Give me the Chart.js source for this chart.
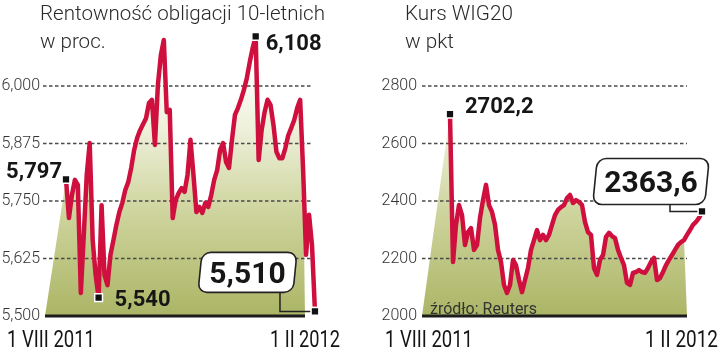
<!DOCTYPE html>
<html><head><meta charset="utf-8">
<script src="https://cdn.jsdelivr.net/npm/chart.js@4.4.1/dist/chart.umd.min.js"></script>
<style>
html,body{margin:0;padding:0;background:#fff;}
#wrap{position:relative;width:720px;height:351px;overflow:hidden;background:#fff;}
.cv{position:absolute;top:0;width:360px;height:351px;}
</style></head><body>
<div id="wrap">
<div class="cv" style="left:0"><canvas id="c1" width="360" height="351"></canvas></div>
<div class="cv" style="left:360px"><canvas id="c2" width="360" height="351"></canvas></div>
</div>
<script>
// ---- data ----
const dateLabels = ['1 VIII 2011', '1 II 2012'];

const yieldTitle = ['Rentowność obligacji 10-letnich', 'w proc.'];
const yieldTicks = [5.5, 5.625, 5.75, 5.875, 6.0];
const yieldValues = [
 5.797, 5.713, 5.763, 5.796, 5.785, 5.550, 5.676, 5.807, 5.876, 5.665,
 5.589, 5.540, 5.741, 5.589, 5.567, 5.633, 5.665, 5.698, 5.726, 5.746,
 5.774, 5.791, 5.822, 5.861, 5.887, 5.904, 5.917, 5.930, 5.963, 5.970,
 5.872, 6.002, 6.067, 6.100, 5.943, 5.948, 5.713, 5.752, 5.767, 5.778,
 5.770, 5.807, 5.883, 5.807, 5.726, 5.737, 5.724, 5.746, 5.737, 5.763,
 5.796, 5.817, 5.861, 5.876, 5.835, 5.822, 5.883, 5.937, 5.952, 5.970,
 5.991, 6.017, 6.052, 6.083, 6.108, 5.839, 5.904, 5.943, 5.970, 5.959,
 5.915, 5.857, 5.843, 5.843, 5.865, 5.893, 5.909, 5.926, 5.952, 5.970,
 5.817, 5.633, 5.720, 5.654, 5.510];

const wigTitle = ['Kurs WIG20', 'w pkt'];
const wigTicks = [2000, 2200, 2400, 2600, 2800];
const wigValues = [
 2702.2, 2188, 2317, 2386, 2351, 2247, 2292, 2306, 2230, 2247,
 2341, 2403, 2456, 2386, 2362, 2317, 2230, 2188, 2108, 2080,
 2108, 2195, 2177, 2125, 2083, 2125, 2167, 2230, 2264, 2299,
 2264, 2282, 2264, 2282, 2317, 2351, 2369, 2379, 2386, 2410,
 2421, 2393, 2403, 2397, 2386, 2327, 2292, 2282, 2167, 2143,
 2195, 2212, 2275, 2289, 2278, 2271, 2230, 2202, 2177, 2115,
 2108, 2150, 2153, 2160, 2153, 2150, 2167, 2188, 2202, 2125,
 2132, 2153, 2177, 2195, 2212, 2230, 2247, 2257, 2264, 2282,
 2299, 2317, 2327, 2341, 2363.6];
const sourceNote = 'źródło: Reuters';

// ---- helpers ----
const RED = '#cf0f3e';
function drawText(ctx, t) {
  ctx.save();
  ctx.font = t.font;
  ctx.fillStyle = t.color || '#1a1a1a';
  ctx.textBaseline = 'alphabetic';
  ctx.textAlign = 'left';
  const w = ctx.measureText(t.text).width;
  const sx = t.sx || (t.width ? t.width / w : 1);
  let x = t.x;
  if (t.align === 'right') x -= w * sx; else if (t.align === 'center') x -= w * sx / 2;
  ctx.translate(x, t.y);
  ctx.scale(sx, 1);
  ctx.fillText(t.text, 0, 0);
  ctx.restore();
  return sx;
}
function roundBox(ctx, cx, cy, w, h, r, skew) {
  ctx.save();
  ctx.translate(cx, cy);
  ctx.transform(1, 0, skew, 1, 0, 0);
  ctx.beginPath();
  ctx.roundRect(-w / 2, -h / 2, w, h, r);
  ctx.fillStyle = '#fff';
  ctx.fill();
  ctx.lineWidth = 1.6;
  ctx.strokeStyle = '#222';
  ctx.stroke();
  ctx.restore();
}

function makeChart(canvasId, cfg) {
  const markerSet = new Set(cfg.callouts.map(c => c.index));
  const L = cfg.layout;
  const lineData = cfg.values.map((v, i) => ({x: i, y: v}));
  const fillData = [{x: L.baseFrom, y: cfg.yMin}]
    .concat(lineData.filter(p => p.x < L.baseTo))
    .concat([{x: L.baseTo, y: cfg.yMin}]);
  const gridSets = cfg.ticks.filter(v => v !== cfg.yMin).map(v => ({
    data: [{x: L.gridFrom, y: v}, {x: L.gridTo, y: v}],
    borderColor: '#4a4a4a', borderWidth: 1.3, borderDash: [3.5, 2.5],
    pointRadius: 0, fill: false, order: 10, clip: false
  }));
  const datasets = [
    {
      data: lineData, borderColor: RED, borderWidth: 4.5, tension: 0,
      borderJoinStyle: 'round', borderCapStyle: 'round', fill: false, order: 1, clip: false,
      pointStyle: 'rect',
      pointRadius: c => markerSet.has(c.dataIndex) ? 5.5 : 0,
      pointBackgroundColor: '#111', pointBorderColor: '#fff', pointBorderWidth: 1.5
    },
    {
      data: fillData, borderColor: 'rgba(0,0,0,0)', borderWidth: 0, pointRadius: 0,
      fill: 'start', order: 20,
      backgroundColor: c => {
        const ch = c.chart; const ca = ch.chartArea;
        if (!ca) return 'rgba(0,0,0,0)';
        const g = ch.ctx.createLinearGradient(0, ca.bottom, 0, ca.bottom - 250);
        g.addColorStop(0, '#abb565');
        g.addColorStop(0.4, '#cdd39b');
        g.addColorStop(0.75, '#eef0da');
        g.addColorStop(1, '#ffffff');
        return g;
      }
    },
    {
      data: [{x: L.baseFrom, y: cfg.yMin}, {x: L.baseTo, y: cfg.yMin}],
      borderColor: '#1c1c1c', borderWidth: 3.2, pointRadius: 0, fill: false, order: 3, clip: false
    }
  ].concat(gridSets);

  const textPlugin = {
    id: 'texts' + canvasId,
    afterDraw(chart) {
      const ctx = chart.ctx;
      const meta = chart.getDatasetMeta(0);
      // titles
      const t1 = cfg.title;
      const sx = drawText(ctx, {text: t1[0], x: cfg.titleX, y: 20, font: '300 21px Roboto', color: '#2a2a2a', width: cfg.titleWidth});
      drawText(ctx, {text: t1[1], x: cfg.titleX, y: 48, font: '300 21px Roboto', color: '#2a2a2a', sx: sx});
      // date labels under the axis
      const xs = chart.scales.x;
      dateLabels.forEach((lab, k) => {
        drawText(ctx, {text: lab, x: xs.getPixelForValue(cfg.datePos[k]), y: 347, align: 'center',
          font: '400 24px Roboto', color: '#151515', width: cfg.dateWidths[k]});
      });
      if (cfg.note) drawText(ctx, cfg.note);
      // value call-outs
      cfg.callouts.forEach(co => {
        const p = meta.data[co.index];
        const txt = cfg.fmt(cfg.values[co.index]);
        if (co.box) {
          const bx = p.x + co.boxRight - co.w / 2;
          const by = p.y + co.boxBottom - co.h / 2;
          // connector
          ctx.save();
          ctx.strokeStyle = '#222'; ctx.lineWidth = 1.5;
          ctx.beginPath();
          const cxLine = p.x + co.boxRight - co.conn;
          ctx.moveTo(cxLine, p.y + co.boxBottom - 1);
          ctx.lineTo(cxLine, p.y);
          ctx.lineTo(p.x - 4, p.y);
          ctx.stroke();
          ctx.restore();
          roundBox(ctx, bx, by, co.w, co.h, 9, -0.1);
          drawText(ctx, {text: txt, x: bx, y: by + 10.5, align: 'center', font: 'bold 30px Roboto', color: '#161616'});
          // redraw marker above the connector
          ctx.save();
          ctx.fillStyle = '#111'; ctx.strokeStyle = '#fff'; ctx.lineWidth = 1.5;
          ctx.beginPath(); ctx.rect(p.x - 3.9, p.y - 3.9, 7.8, 7.8); ctx.fill(); ctx.stroke();
          ctx.restore();
        } else {
          drawText(ctx, {text: txt, x: p.x + co.dx, y: p.y + co.dy, align: co.align,
            font: 'bold 22px Roboto', color: '#161616'});
        }
      });
    }
  };

  return new Chart(document.getElementById(canvasId), {
    type: 'line',
    data: {datasets},
    options: {
      responsive: false, animation: false, devicePixelRatio: 1,
      layout: {padding: {top: 17, right: L.padRight, left: 0, bottom: 35}},
      plugins: {legend: {display: false}, tooltip: {enabled: false}},
      scales: {
        x: {type: 'linear', display: false, min: L.xMin, max: L.xMax},
        y: {
          type: 'linear', min: cfg.yMin, max: cfg.yMax,
          grid: {display: false, drawTicks: false}, border: {display: false},
          afterBuildTicks: s => { s.ticks = cfg.ticks.map(v => ({value: v})); },
          afterFit: s => { s.width = L.axisWidth; },
          ticks: {font: {family: 'Roboto', size: 16, weight: '300'}, color: '#333', padding: L.tickPad,
            callback: v => cfg.tickFmt(v)}
        }
      }
    },
    plugins: [textPlugin]
  });
}

makeChart('c1', {
  values: yieldValues, ticks: yieldTicks, yMin: 5.5, yMax: 6.15,
  title: yieldTitle, titleX: 40, titleWidth: 285,
  fmt: v => v.toFixed(3).replace('.', ','),
  tickFmt: v => v.toFixed(3).replace('.', ','),
  datePos: [-5.06, 80.63], dateWidths: [88, 70],
  layout: {gridFrom: -7.76, gridTo: 83.0, baseFrom: -7.085, baseTo: 80.63,
           xMin: -7.76, xMax: 89.07, padRight: 30, axisWidth: 43, tickPad: 3},
  callouts: [
    {index: 0, dx: -4, dy: -1, align: 'right'},
    {index: 11, dx: 16, dy: 8, align: 'left'},
    {index: 64, dx: 10, dy: 14, align: 'left'},
    {index: 84, box: true, w: 95, h: 40, boxRight: -20, boxBottom: -19, conn: 15}
  ]
});

makeChart('c2', {
  values: wigValues, ticks: wigTicks, yMin: 2000, yMax: 3040,
  title: wigTitle, titleX: 45, titleWidth: 108,
  fmt: v => v.toFixed(1).replace('.', ','),
  tickFmt: v => String(v),
  datePos: [-7.0, 77.17], dateWidths: [88, 73],
  note: {text: sourceNote, x: 70, y: 314, font: '400 16px Roboto', color: '#333', width: 107},
  layout: {gridFrom: -9.333, gridTo: 79.0, baseFrom: -9.333, baseTo: 79.0,
           xMin: -9.333, xMax: 86.667, padRight: 10, axisWidth: 62, tickPad: 5},
  callouts: [
    {index: 0, dx: 15, dy: -1, align: 'left'},
    {index: 84, box: true, w: 112, h: 46, boxRight: 5, boxBottom: -7, conn: 37}
  ]
});
</script>
</body></html>
